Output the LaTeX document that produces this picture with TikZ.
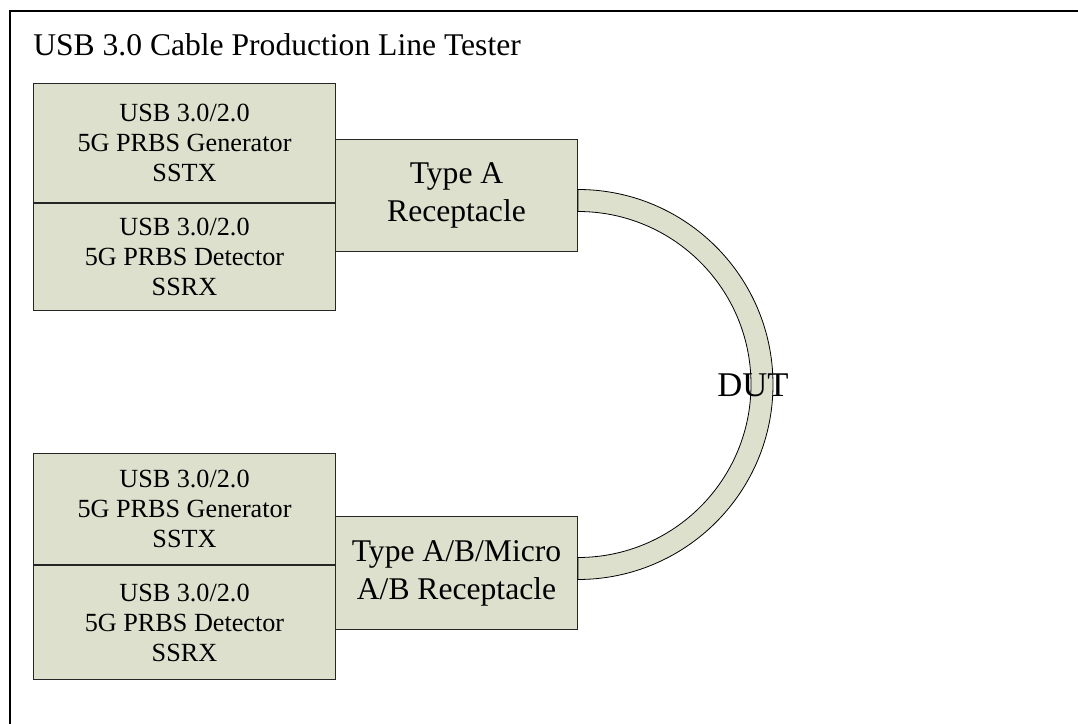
\documentclass[tikz,border=0pt]{standalone}
\usepackage{fontspec}
\setmainfont{Liberation Serif}
\definecolor{boxfill}{RGB}{221,224,204}
\begin{document}
\begin{tikzpicture}[x=0.75pt,y=0.75pt,
  blk/.style={draw=black!85, line width=0.75pt, fill=boxfill, inner sep=0pt, align=center, anchor=north west, minimum width=226.5pt, font=\fontsize{19.65pt}{22.5pt}\selectfont},
  recbox/.style={draw=black!85, line width=0.75pt, fill=boxfill, inner sep=0pt, align=center, anchor=north west, minimum width=181.5pt, font=\fontsize{23.7pt}{28.4pt}\selectfont},
  cable/.style={draw=black, line width=0.6pt, fill=boxfill},
  frame/.style={draw=black, line width=1.5pt}]
\useasboundingbox (0,0) rectangle (1078,724);
\clip (0,0) rectangle (1078,724);
\draw[frame] (9.5,-40) rectangle (1110,713);
\node[font=\fontsize{23.7pt}{28pt}\selectfont, anchor=base west, inner sep=0pt] (title) at (33,668) {USB 3.0 Cable Production Line Tester};
\node[blk, minimum height=89.25pt] (gen1) at (33,641) {USB 3.0/2.0\\5G PRBS Generator\\SSTX};
\node[blk, minimum height=80.25pt] (det1) at (gen1.south west) {USB 3.0/2.0\\5G PRBS Detector\\SSRX};
\node[recbox, minimum height=84pt] (recA) at (335,585) {Type A\\Receptacle};
\node[blk, minimum height=83.25pt] (gen2) at (33,271) {USB 3.0/2.0\\5G PRBS Generator\\SSTX};
\node[blk, minimum height=85.5pt] (det2) at (gen2.south west) {USB 3.0/2.0\\5G PRBS Detector\\SSRX};
\node[recbox, minimum height=84.75pt] (recB) at (335,208) {Type A/B/Micro\\A/B Receptacle};
\draw[cable] ([yshift=4.5pt]recA.east) arc[start angle=90, end angle=-90, radius=146.25pt]
  -- ++(0,22) arc[start angle=-90, end angle=90, radius=129.75pt] -- cycle;
\node[font=\fontsize{26pt}{30pt}\selectfont, anchor=base west, inner sep=0pt] (dut) at (717,327) {DUT};
\end{tikzpicture}
\end{document}
